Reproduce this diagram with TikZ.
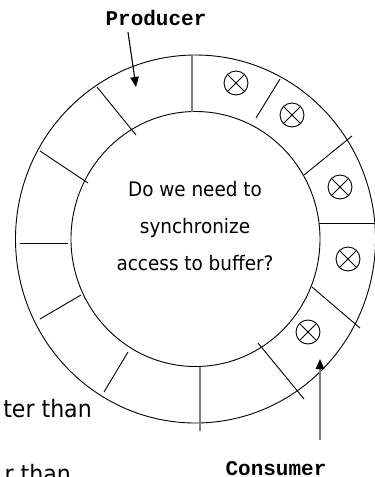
\documentclass[tikz,border=0pt]{standalone}
\usepackage{fontspec}
\usetikzlibrary{arrows.meta}
\newfontfamily\slidefont[FakeStretch=0.92]{DejaVu Sans}
\newfontfamily\codefont{Liberation Mono}
\definecolor{rulegray}{gray}{0.5}
\tikzset{
  ring/.style={line width=0.9pt, draw=black},
  divider/.style={line width=0.9pt, draw=black},
  gdivider/.style={line width=1.4pt, draw=rulegray},
  token/.style={circle, draw=black, line width=0.9pt, minimum size=24pt, inner sep=0pt},
  role/.style={font=\codefont\bfseries\fontsize{21}{21}\selectfont, inner sep=0pt},
  tip/.style={-{Triangle[length=10pt,width=8.5pt,color=black]}}
}
\begin{document}
\begin{tikzpicture}[x=1pt, y=-1pt]
  \useasboundingbox (0,0) rectangle (375,477);
  \clip (0,0) rectangle (375,477);
  \fill[white] (0,0) rectangle (375,477);

  % circular buffer: outer and inner rims
  \draw[ring] (195.5,239) ellipse [x radius=180, y radius=184];
  \draw[ring] (195.5,239) ellipse [x radius=124.5, y radius=127.5];

  % slot separators
  \draw[gdivider] (192,55) -- (192,112);
  \draw[gdivider] (200,367) -- (200,431);
  \draw[divider] (97,87) -- (136,135);
  \draw[divider] (40,151) -- (88,183);
  \draw[divider] (20,243) -- (68,243);
  \draw[divider] (40,319) -- (81,295);
  \draw[divider] (104,392) -- (128,352);
  \draw[divider] (258,343) -- (304,399);
  \draw[divider] (312,287) -- (360,328);
  \draw[divider] (319,223) -- (376,223);
  \draw[divider] (304,175) -- (352,136);
  \draw[divider] (256,118) -- (280,79);

  % filled slots
  \node[token] (t1) at (236,83) {};
  \node[token] (t2) at (292,115) {};
  \node[token] (t3) at (340,187) {};
  \node[token] (t4) at (348,259) {};
  \node[token] (t5) at (308,332) {};
  \foreach \t in {t1,t2,t3,t4,t5}
    \draw[line width=0.9pt] (\t.45) -- (\t.225) (\t.135) -- (\t.315);

  % question in the middle
  \node[font=\slidefont\fontsize{20}{37}\selectfont, align=center, inner sep=0pt]
    (question) at (195,226) {Do we need to\\synchronize\\access to buffer?};

  % producer and consumer pointers
  \node[role] (producer) at (156,18) {Producer};
  \node[role, anchor=base] (consumer) at (276,475.5) {Consumer};
  \coordinate (pstart) at (128,32);
  \coordinate (ptip) at (136,87);
  \coordinate (cstart) at (320,440);
  \coordinate (ctip) at (320,359);
  \draw[tip, line width=1.1pt, black] (pstart) -- (ptip);
  \draw[tip, line width=1.5pt, rulegray] (cstart) -- (ctip);

  % text running in from the left
  \node[font=\slidefont\fontsize{24}{24}\selectfont, anchor=base east, inner sep=0pt]
    (line1) at (92,417) {ter than};
  \node[font=\slidefont\fontsize{24}{24}\selectfont, anchor=base east, inner sep=0pt]
    (line2) at (71,482) {r than};
\end{tikzpicture}
\end{document}
